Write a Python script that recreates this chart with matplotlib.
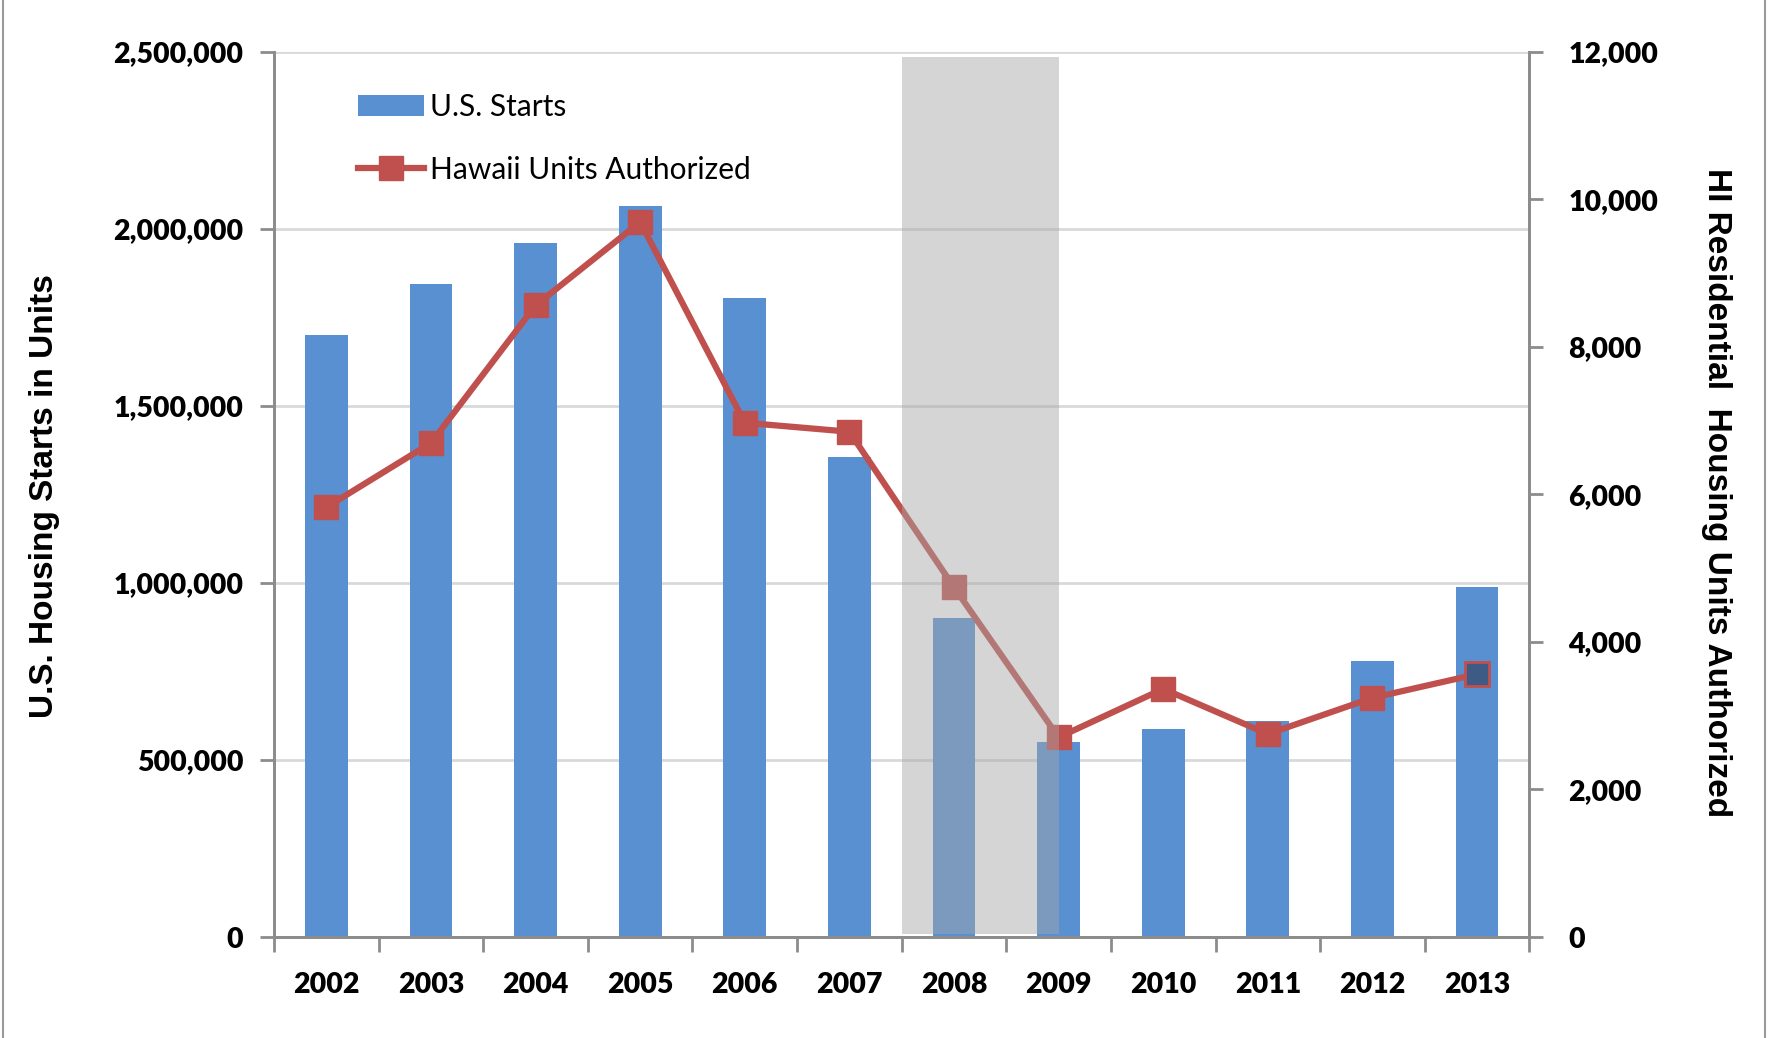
import matplotlib
matplotlib.use("Agg")
import matplotlib.pyplot as plt
from matplotlib.patches import Patch
from matplotlib.lines import Line2D
from matplotlib.ticker import FuncFormatter, MultipleLocator, FixedLocator

years = ["2002", "2003", "2004", "2005", "2006", "2007",
         "2008", "2009", "2010", "2011", "2012", "2013"]
us_starts = [1700000, 1845000, 1960000, 2065000, 1803000, 1354000,
             902000, 552000, 587000, 609000, 780000, 987000]
hawaii_units = [5824, 6695, 8560, 9690, 6970, 6848,
                4740, 2706, 3363, 2751, 3241, 3562]
recession_span = (5.5, 7.0)  # category positions: 2007/2008 boundary to 2009

BLUE = "#5890d2"
RED = "#c0504d"
GRID = "#d9d9d9"
SPINE = "#8c8c8c"
FONT = ["Lato", "DejaVu Sans"]
TICKW = 'heavy'

plt.rcParams['font.family'] = FONT

fig = plt.figure(figsize=(17.68, 10.38), dpi=100)
ax = fig.add_axes([0.155, 0.0973, 0.710, 0.853])
ax2 = ax.twinx()

x = list(range(len(years)))
ax.bar(x, us_starts, width=0.41, color=BLUE, zorder=2)
ax.set_ylim(0, 2500000)
ax.set_xlim(-0.5, len(years) - 0.5)
ax.yaxis.set_major_locator(MultipleLocator(500000))
ax.yaxis.set_major_formatter(FuncFormatter(lambda v, p: f"{int(v):,}"))
ax.grid(axis='y', color=GRID, linewidth=2, zorder=0)
ax.set_axisbelow(True)

ax2.plot(x, hawaii_units, color=RED, linewidth=4.5, marker='s', markersize=17,
         markerfacecolor=RED, markeredgecolor=RED, zorder=3)
ax2.plot([x[-1]], [hawaii_units[-1]], linestyle='none', marker='s', markersize=17,
         markerfacecolor="#3e5b86", markeredgecolor=RED, markeredgewidth=2, zorder=4)
ax2.set_ylim(0, 12000)
ax2.yaxis.set_major_locator(MultipleLocator(2000))
ax2.yaxis.set_major_formatter(FuncFormatter(lambda v, p: f"{int(v):,}"))

# recession shading
ax2.axvspan(recession_span[0], recession_span[1], ymin=0.003, ymax=0.994,
            facecolor="#a6a6a6", alpha=0.47, edgecolor='none', zorder=6)

# x ticks: boundaries as major ticks, labels at centres
ax.xaxis.set_major_locator(FixedLocator([i - 0.5 for i in range(len(years) + 1)]))
ax.xaxis.set_major_formatter(FuncFormatter(lambda v, p: ""))
ax.xaxis.set_minor_locator(FixedLocator(x))
ax.set_xticklabels(years, minor=True)
ax.tick_params(axis='x', which='major', length=11, width=2, color=SPINE, direction='out')
ax.tick_params(axis='x', which='minor', length=0, pad=25, labelsize=20.5)
for lab in ax.get_xticklabels(minor=True):
    lab.set_fontweight(TICKW)

ax.tick_params(axis='y', length=10, width=2, color=SPINE, pad=12, labelsize=20.5)
ax2.tick_params(axis='y', length=10, width=2, color=SPINE, pad=18, labelsize=20.5)
for lab in ax.get_yticklabels() + ax2.get_yticklabels():
    lab.set_fontweight(TICKW)

for a in (ax, ax2):
    a.spines['top'].set_visible(False)
    for s in ('left', 'right', 'bottom'):
        a.spines[s].set_color(SPINE)
        a.spines[s].set_linewidth(2)

fig.text(0.025, 0.522, "U.S. Housing Starts in Units", rotation=90, ha='center', va='center',
         fontsize=24, fontweight='bold', family=["Liberation Sans", "DejaVu Sans"])
fig.text(0.971, 0.525, "HI Residential  Housing Units Authorized", rotation=270, ha='center', va='center',
         fontsize=24, fontweight='bold', family=["Liberation Sans Narrow", "Liberation Sans", "DejaVu Sans"])

handles = [Patch(facecolor=BLUE, edgecolor='none'),
           Line2D([0], [0], color=RED, linewidth=4.5, marker='s', markersize=17)]
leg = ax2.legend(handles, ["U.S. Starts", "Hawaii Units Authorized"], loc='upper left',
                 bbox_to_anchor=(0.067, 0.953), frameon=False, fontsize=21.5,
                 handlelength=2.2, handletextpad=0.2, labelspacing=1.15,
                 borderpad=0, borderaxespad=0)
leg.set_zorder(10)

# figure side borders
fig.add_artist(Line2D([0.0015, 0.0015], [0, 1], transform=fig.transFigure, color="#9a9a9a", linewidth=1.5))
fig.add_artist(Line2D([0.9985, 0.9985], [0, 1], transform=fig.transFigure, color="#9a9a9a", linewidth=1.5))

fig.savefig("out.png", dpi=100)
